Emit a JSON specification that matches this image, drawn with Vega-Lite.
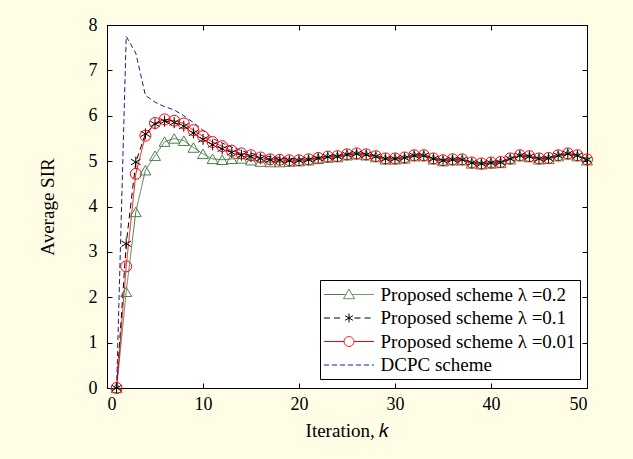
{
  "$schema": "https://vega.github.io/schema/vega-lite/v6.json",
  "autosize": "none",
  "width": 480,
  "height": 363,
  "padding": {"left": 107, "top": 25, "right": 46, "bottom": 71},
  "background": "#fffde6",
  "data": {"values": [
    {"k":1,"p02":0,"p01":0,"p001":0,"dcpc":0},
    {"k":2,"p02":2.12,"p01":3.18,"p001":2.68,"dcpc":7.75},
    {"k":3,"p02":3.88,"p01":4.98,"p001":4.72,"dcpc":7.38},
    {"k":4,"p02":4.8,"p01":5.6,"p001":5.56,"dcpc":6.45},
    {"k":5,"p02":5.12,"p01":5.82,"p001":5.84,"dcpc":6.3},
    {"k":6,"p02":5.43,"p01":5.88,"p001":5.92,"dcpc":6.2},
    {"k":7,"p02":5.5,"p01":5.85,"p001":5.89,"dcpc":6.13},
    {"k":8,"p02":5.45,"p01":5.77,"p001":5.83,"dcpc":6.0},
    {"k":9,"p02":5.3,"p01":5.62,"p001":5.68,"dcpc":5.85},
    {"k":10,"p02":5.16,"p01":5.48,"p001":5.55,"dcpc":5.68},
    {"k":11,"p02":5.05,"p01":5.36,"p001":5.42,"dcpc":5.5},
    {"k":12,"p02":5.03,"p01":5.27,"p001":5.33,"dcpc":5.4},
    {"k":13,"p02":5.05,"p01":5.19,"p001":5.23,"dcpc":5.31},
    {"k":14,"p02":5.06,"p01":5.13,"p001":5.17,"dcpc":5.23},
    {"k":15,"p02":5.02,"p01":5.1,"p001":5.13,"dcpc":5.17},
    {"k":16,"p02":4.99,"p01":5.06,"p001":5.08,"dcpc":5.13},
    {"k":17,"p02":4.98,"p01":5.03,"p001":5.04,"dcpc":5.1},
    {"k":18,"p02":4.98,"p01":5.02,"p001":5.03,"dcpc":5.08},
    {"k":19,"p02":4.99,"p01":5.01,"p001":5.02,"dcpc":5.06},
    {"k":20,"p02":5.0,"p01":5.01,"p001":5.02,"dcpc":5.05},
    {"k":21,"p02":5.02,"p01":5.03,"p001":5.04,"dcpc":5.05},
    {"k":22,"p02":5.05,"p01":5.06,"p001":5.07,"dcpc":5.08},
    {"k":23,"p02":5.08,"p01":5.09,"p001":5.1,"dcpc":5.11},
    {"k":24,"p02":5.09,"p01":5.1,"p001":5.11,"dcpc":5.12},
    {"k":25,"p02":5.13,"p01":5.14,"p001":5.15,"dcpc":5.16},
    {"k":26,"p02":5.15,"p01":5.16,"p001":5.17,"dcpc":5.18},
    {"k":27,"p02":5.13,"p01":5.14,"p001":5.15,"dcpc":5.16},
    {"k":28,"p02":5.09,"p01":5.1,"p001":5.11,"dcpc":5.12},
    {"k":29,"p02":5.04,"p01":5.05,"p001":5.06,"dcpc":5.07},
    {"k":30,"p02":5.04,"p01":5.05,"p001":5.06,"dcpc":5.07},
    {"k":31,"p02":5.06,"p01":5.07,"p001":5.08,"dcpc":5.09},
    {"k":32,"p02":5.11,"p01":5.12,"p001":5.13,"dcpc":5.14},
    {"k":33,"p02":5.11,"p01":5.12,"p001":5.13,"dcpc":5.14},
    {"k":34,"p02":5.04,"p01":5.05,"p001":5.06,"dcpc":5.07},
    {"k":35,"p02":5.0,"p01":5.01,"p001":5.02,"dcpc":5.03},
    {"k":36,"p02":5.02,"p01":5.03,"p001":5.04,"dcpc":5.05},
    {"k":37,"p02":5.02,"p01":5.03,"p001":5.04,"dcpc":5.05},
    {"k":38,"p02":4.95,"p01":4.96,"p001":4.97,"dcpc":4.98},
    {"k":39,"p02":4.93,"p01":4.94,"p001":4.95,"dcpc":4.96},
    {"k":40,"p02":4.95,"p01":4.96,"p001":4.97,"dcpc":4.98},
    {"k":41,"p02":4.96,"p01":4.97,"p001":4.98,"dcpc":4.99},
    {"k":42,"p02":5.04,"p01":5.05,"p001":5.06,"dcpc":5.07},
    {"k":43,"p02":5.11,"p01":5.12,"p001":5.13,"dcpc":5.14},
    {"k":44,"p02":5.09,"p01":5.1,"p001":5.11,"dcpc":5.12},
    {"k":45,"p02":5.04,"p01":5.05,"p001":5.06,"dcpc":5.07},
    {"k":46,"p02":5.05,"p01":5.06,"p001":5.07,"dcpc":5.08},
    {"k":47,"p02":5.11,"p01":5.12,"p001":5.13,"dcpc":5.14},
    {"k":48,"p02":5.15,"p01":5.16,"p001":5.17,"dcpc":5.18},
    {"k":49,"p02":5.11,"p01":5.12,"p001":5.13,"dcpc":5.14},
    {"k":50,"p02":5.02,"p01":5.03,"p001":5.04,"dcpc":5.05}
  ]},
  "transform": [{"fold": ["p02","p01","p001","dcpc"], "as": ["series","v"]}],
  "layer": [
    {
      "mark": {"type": "line", "strokeWidth": 1},
      "encoding": {
        "x": {"field": "k", "type": "quantitative", "scale": {"domain": [0,50], "nice": false},
              "axis": {"orient": "bottom", "values": [0,10,20,30,40,50], "title": "Iteration, 𝑘"}},
        "y": {"field": "v", "type": "quantitative", "scale": {"domain": [0,8], "nice": false},
              "axis": {"orient": "left", "values": [0,1,2,3,4,5,6,7,8], "title": "Average SIR", "labelPadding": 15}},
        "color": {"field": "series", "type": "nominal",
          "scale": {"domain": ["p02","p01","p001","dcpc"], "range": ["#4e7d4e","#000000","#ff0000","#1c1c8e"]},
          "legend": {
            "orient": "none", "legendX": 213, "legendY": 255, "title": null,
            "symbolSize": 400, "symbolStrokeWidth": 1, "symbolOffset": 14.5,
            "strokeColor": "black", "fillColor": "white", "padding": 4,
            "labelFontSize": 19, "labelFont": "Liberation Serif", "labelColor": "black", "labelOffset": 21,
            "labelLimit": 400, "rowPadding": 2.5,
            "labelExpr": "{'p02':'Proposed scheme λ =0.2','p01':'Proposed scheme λ =0.1','p001':'Proposed scheme λ =0.01','dcpc':'DCPC scheme'}[datum.label]",
            "encode": {"symbols": {"update": {
              "shape": {"signal": "['M-2.5,0L-0.33,0M0.33,0L2.5,0M0,-0.52L0.55,0.42L-0.55,0.42Z','M-2.5,0L-0.55,0M0.55,0L2.5,0M0,0L0,-0.45M0,0L0,0.45M0,0L0.39,-0.225M0,0L0.39,0.225M0,0L-0.39,-0.225M0,0L-0.39,0.225','M-2.5,0L-0.5,0M0.5,0L2.5,0M0.5,0L0.462,0.191L0.354,0.354L0.191,0.462L0,0.5L-0.191,0.462L-0.354,0.354L-0.462,0.191L-0.5,0L-0.462,-0.191L-0.354,-0.354L-0.191,-0.462L0,-0.5L0.191,-0.462L0.354,-0.354L0.462,-0.191Z','M-2.5,0L2.5,0'][datum.index]"},
              "strokeDash": {"signal": "datum.index == 1 ? [5,3] : datum.index == 3 ? [4,3] : [1,0]"},
              "fill": {"value": "transparent"}
            }}}
          }},
        "strokeDash": {"field": "series", "type": "nominal",
          "scale": {"domain": ["p02","p01","p001","dcpc"], "range": [[1,0],[6,4],[1,0],[5,3]]},
          "legend": null}
      }
    },
    {
      "transform": [{"filter": "datum.series != 'dcpc'"}],
      "mark": {"type": "point", "filled": false, "strokeWidth": 1, "opacity": 1},
      "encoding": {
        "x": {"field": "k", "type": "quantitative", "axis": null},
        "y": {"field": "v", "type": "quantitative", "axis": null},
        "color": {"field": "series", "type": "nominal", "legend": null},
        "shape": {"field": "series", "type": "nominal",
          "scale": {"domain": ["p02","p01","p001"], "range": ["triangle-up","M0,-1L0,1M-0.866,-0.5L0.866,0.5M-0.866,0.5L0.866,-0.5","circle"]},
          "legend": null},
        "size": {"value": 120}
      }
    },
    {
      "mark": {"type": "point", "opacity": 0},
      "encoding": {
        "x": {"field": "k", "type": "quantitative",
              "axis": {"orient": "top", "values": [0,10,20,30,40,50], "labels": false, "title": null}},
        "y": {"field": "v", "type": "quantitative",
              "axis": {"orient": "right", "values": [0,1,2,3,4,5,6,7,8], "labels": false, "title": null}}
      }
    }
  ],
  "resolve": {"axis": {"x": "independent", "y": "independent"}},
  "config": {
    "font": "Liberation Serif",
    "view": {"stroke": "black", "strokeWidth": 1, "fill": "white"},
    "axis": {
      "domainColor": "black", "domainWidth": 1, "tickColor": "black", "tickWidth": 1,
      "tickSize": -5, "labelPadding": 12, "labelColor": "black", "labelFont": "Liberation Serif",
      "labelFontSize": 18, "titleFont": "Liberation Serif", "titleFontSize": 19,
      "titleFontWeight": "normal", "titleColor": "black", "grid": false
    },
    "axisX": {"titlePadding": 8},
    "axisY": {"titlePadding": 31}
  }
}
